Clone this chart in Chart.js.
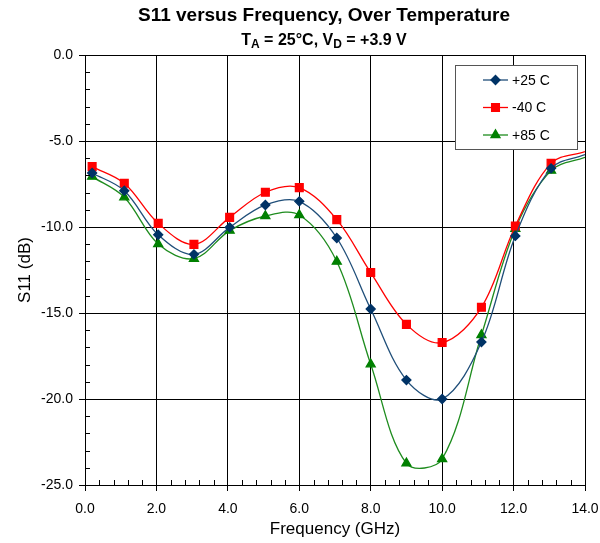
<!DOCTYPE html>
<html>
<head>
<meta charset="utf-8">
<script src="https://cdn.jsdelivr.net/npm/chart.js@4.4.1/dist/chart.umd.min.js"></script>
<style>
  html, body { margin: 0; padding: 0; background: #fff; }
  #wrap { width: 600px; height: 543px; }
</style>
</head>
<body>
<div id="wrap"><canvas id="s11Chart" width="600" height="543"></canvas></div>
<script>
// Chart data
const freqs = [0.2, 1.1, 2.05, 3.05, 4.05, 5.05, 6.0, 7.05, 8.0, 9.0, 10.0, 11.1, 12.05, 13.05, 14.0];
const s11Plus25 = [-6.86, -7.89, -10.45, -11.59, -10.02, -8.72, -8.51, -10.64, -14.77, -18.9, -20.0, -16.69, -10.52, -6.59, -5.79];
const s11Minus40 = [-6.49, -7.46, -9.79, -11.01, -9.44, -7.98, -7.71, -9.57, -12.65, -15.66, -16.72, -14.67, -9.94, -6.3, -5.62];
const s11Plus85 = [-7.07, -8.27, -10.99, -11.84, -10.21, -9.36, -9.30, -12.01, -17.98, -23.74, -23.49, -16.28, -10.1, -6.72, -5.95];
const seriesLabels = ['+25 C', '-40 C', '+85 C'];
const xTicks = [0, 2, 4, 6, 8, 10, 12, 14];
const yTicks = [0, -5, -10, -15, -20, -25];

const FONT = "'Liberation Sans', Arial, sans-serif";

function toPoints(values) {
    return values.map((v, i) => ({ x: freqs[i], y: v }));
}

// no marker on the last point (line runs on to the edge)
function radii(r) {
    return freqs.map((f, i) => i === freqs.length - 1 ? 0 : r);
}

// Titles (with subscripts)
const titlePlugin = {
    id: 'titles',
    afterDraw(chart) {
        const ctx = chart.ctx;
        const cx = 324;
        ctx.save();
        ctx.fillStyle = '#000';
        ctx.textBaseline = 'alphabetic';
        ctx.font = 'bold 19px ' + FONT;
        ctx.textAlign = 'center';
        ctx.fillText('S11 versus Frequency, Over Temperature', cx, 21);

        // subtitle pieces: [text, isSub]
        const parts = [['T', false], ['A', true], [' = 25°C, V', false], ['D', true], [' = +3.9 V', false]];
        const big = 'bold 16px ' + FONT;
        const small = 'bold 12px ' + FONT;
        let total = 0;
        parts.forEach(p => { ctx.font = p[1] ? small : big; total += ctx.measureText(p[0]).width; });
        let x = cx - total / 2;
        ctx.textAlign = 'left';
        parts.forEach(p => {
            ctx.font = p[1] ? small : big;
            ctx.fillText(p[0], x, p[1] ? 48 : 45);
            x += ctx.measureText(p[0]).width;
        });
        ctx.restore();
    }
};

// Minor ticks pointing inward
const minorTicks = {
    id: 'minorTicks',
    afterDraw(chart) {
        const { ctx, chartArea, scales } = chart;
        ctx.save();
        ctx.strokeStyle = '#000';
        ctx.lineWidth = 1;
        ctx.beginPath();
        for (let v = 0; v <= 14.001; v += 0.4) {
            if (Math.abs(v / 2 - Math.round(v / 2)) < 0.01) continue;
            const px = Math.round(scales.x.getPixelForValue(v)) + 0.5;
            ctx.moveTo(px, chartArea.bottom);
            ctx.lineTo(px, chartArea.bottom - 5);
        }
        for (let v = 0; v >= -25; v -= 1) {
            if (v % 5 === 0) continue;
            const py = Math.round(scales.y.getPixelForValue(v)) + 0.5;
            ctx.moveTo(chartArea.left, py);
            ctx.lineTo(chartArea.left + 5, py);
        }
        ctx.stroke();
        ctx.restore();
    }
};

// Legend box inside the plot
const legendBox = {
    id: 'legendBox',
    afterDraw(chart) {
        const ctx = chart.ctx;
        const bx = 455, by = 65, bw = 122, bh = 84;
        ctx.save();
        ctx.fillStyle = '#fff';
        ctx.fillRect(bx, by, bw, bh);
        ctx.strokeStyle = '#555';
        ctx.lineWidth = 1;
        ctx.strokeRect(bx + 0.5, by + 0.5, bw, bh);
        chart.data.datasets.forEach((ds, i) => {
            const y = 80 + i * 27.5;
            ctx.strokeStyle = ds.borderColor;
            ctx.lineWidth = 1.3;
            ctx.beginPath();
            ctx.moveTo(483, y);
            ctx.lineTo(508, y);
            ctx.stroke();
            ctx.fillStyle = ds.pointBackgroundColor;
            ctx.strokeStyle = ds.pointBackgroundColor;
            Chart.helpers.drawPoint(ctx, { pointStyle: ds.pointStyle, radius: ds.legendRadius, borderWidth: 1 }, 495.5, y);
            ctx.fillStyle = '#000';
            ctx.font = '14px ' + FONT;
            ctx.textAlign = 'left';
            ctx.textBaseline = 'middle';
            ctx.fillText(ds.label, 512, y + 1);
        });
        ctx.restore();
    }
};

const ctx = document.getElementById('s11Chart');

new Chart(ctx, {
    type: 'line',
    data: {
        datasets: [
            {
                label: seriesLabels[0],
                data: toPoints(s11Plus25),
                borderColor: '#1F4E79',
                pointBackgroundColor: '#003366',
                pointBorderColor: '#003366',
                pointStyle: 'rectRot',
                pointRadius: radii(4.5),
                legendRadius: 4.5,
                borderWidth: 1.3,
                tension: 0.35
            },
            {
                label: seriesLabels[1],
                data: toPoints(s11Minus40),
                borderColor: '#FF0000',
                pointBackgroundColor: '#FF0000',
                pointBorderColor: '#FF0000',
                pointStyle: 'rect',
                pointRadius: radii(5.5),
                legendRadius: 5.5,
                borderWidth: 1.3,
                tension: 0.35
            },
            {
                label: seriesLabels[2],
                data: toPoints(s11Plus85),
                borderColor: '#1E8C1E',
                pointBackgroundColor: '#008000',
                pointBorderColor: '#008000',
                pointStyle: 'triangle',
                pointRadius: radii(5.2),
                legendRadius: 5.2,
                borderWidth: 1.3,
                tension: 0.35
            }
        ]
    },
    options: {
        responsive: false,
        animation: false,
        events: [],
        layout: { padding: { left: 0, right: 15, top: 55, bottom: 0 } },
        plugins: {
            legend: { display: false },
            title: { display: false },
            tooltip: { enabled: false }
        },
        scales: {
            x: {
                type: 'linear',
                min: 0,
                max: 14,
                afterBuildTicks: s => { s.ticks = xTicks.map(v => ({ value: v })); },
                afterFit: s => { s.height = 58; s.paddingLeft = 0; s.paddingRight = 0; },
                grid: { color: '#000', lineWidth: 1, tickLength: 6, tickColor: '#000' },
                border: { color: '#000', width: 1 },
                ticks: {
                    color: '#000',
                    font: { family: FONT, size: 14 },
                    padding: 10,
                    maxRotation: 0,
                    callback: v => Number(v).toFixed(1)
                },
                title: {
                    display: true,
                    text: 'Frequency (GHz)',
                    color: '#000',
                    font: { family: FONT, size: 17 },
                    padding: { top: 0, bottom: 3 }
                }
            },
            y: {
                type: 'linear',
                min: -25,
                max: 0,
                afterBuildTicks: s => { s.ticks = yTicks.map(v => ({ value: v })); },
                afterFit: s => { s.width = 85; s.paddingTop = 0; s.paddingBottom = 0; },
                grid: { color: '#000', lineWidth: 1, tickLength: 6, tickColor: '#000' },
                border: { color: '#000', width: 1 },
                ticks: {
                    color: '#000',
                    font: { family: FONT, size: 14 },
                    padding: 6,
                    callback: v => Number(v).toFixed(1)
                },
                title: {
                    display: true,
                    text: 'S11 (dB)',
                    color: '#000',
                    font: { family: FONT, size: 17 },
                    padding: { top: 15, bottom: 0 }
                }
            }
        }
    },
    plugins: [titlePlugin, minorTicks, legendBox]
});
</script>
</body>
</html>
